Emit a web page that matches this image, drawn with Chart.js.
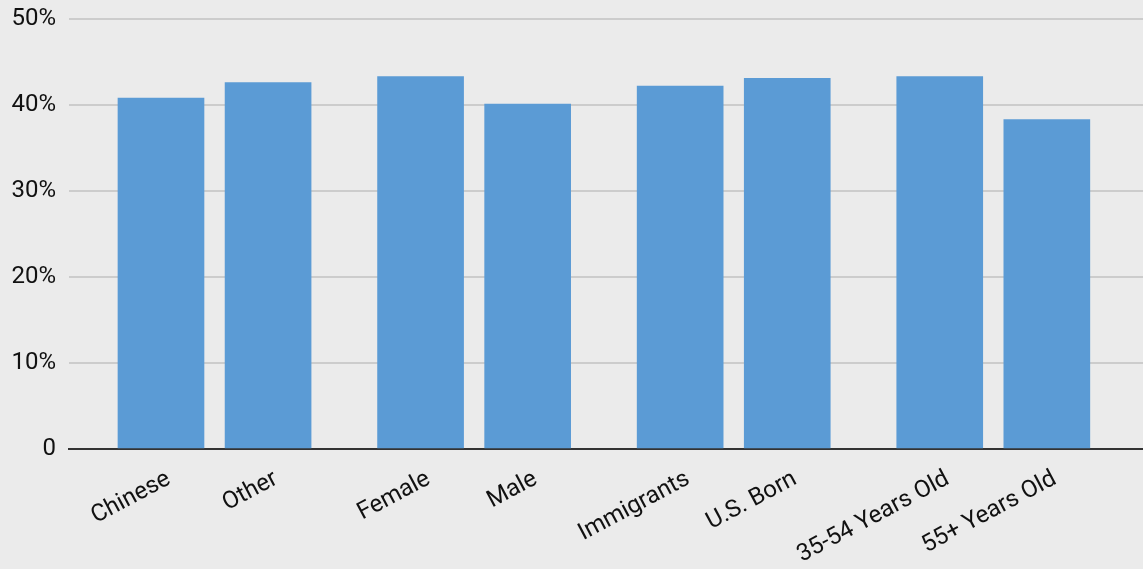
<!DOCTYPE html>
<html>
<head>
<meta charset="utf-8">
<script src="https://cdn.jsdelivr.net/npm/chart.js@4"></script>
<style>
  html, body { margin: 0; padding: 0; background: #ebebeb; }
  #wrap { width: 1143px; height: 569px; }
</style>
</head>
<body>
<div id="wrap"><canvas id="myChart"></canvas></div>
<script>
const categories = ['Chinese', 'Other', 'Female', 'Male', 'Immigrants', 'U.S. Born', '35-54 Years Old', '55+ Years Old'];
const values = [40.8, 42.6, 43.3, 40.1, 42.2, 43.1, 43.3, 38.3];
const groups = [0, 0, 1, 1, 2, 2, 3, 3];
const yTicks = [0, 10, 20, 30, 40, 50];

// extra space between groups, in bar steps
const groupGap = 0.424;
const positions = categories.map((c, i) => i + groups[i] * groupGap);

const ctx = document.getElementById('myChart').getContext('2d');

const myChart = new Chart(ctx, {
    type: 'bar',
    data: {
        datasets: [{
            data: positions.map((p, i) => ({ x: p, y: values[i] })),
            backgroundColor: '#5b9bd5',
            barThickness: 86
        }]
    },
    options: {
        responsive: true,
        maintainAspectRatio: false,
        animation: false,
        layout: { padding: { top: 19, right: 0, left: 0, bottom: 0 } },
        plugins: {
            legend: { display: false },
            tooltip: { enabled: false }
        },
        scales: {
            x: {
                type: 'linear',
                min: -0.859,
                max: 9.17,
                offset: false,
                z: 1,
                grid: { display: false, offset: false },
                border: { display: true, color: '#333333', width: 2 },
                afterBuildTicks: (scale) => {
                    scale.ticks = positions.map(p => ({ value: p }));
                },
                afterFit: (scale) => {
                    scale.height = 120;
                    scale.paddingLeft = 0;
                    scale.paddingRight = 0;
                },
                ticks: {
                    autoSkip: false,
                    minRotation: 28,
                    maxRotation: 28,
                    padding: 8,
                    labelOffset: 8,
                    color: '#111111',
                    font: { family: 'Roboto', size: 24 },
                    callback: (v) => {
                        const i = positions.findIndex(p => Math.abs(p - v) < 0.001);
                        return i >= 0 ? categories[i] : '';
                    }
                }
            },
            y: {
                min: 0,
                max: 50,
                afterBuildTicks: (scale) => {
                    scale.ticks = yTicks.map(v => ({ value: v }));
                },
                afterFit: (scale) => {
                    scale.width = 69;
                    scale.paddingTop = 0;
                    scale.paddingBottom = 0;
                },
                grid: { color: '#cccccc', lineWidth: 2, drawTicks: false },
                border: { display: false },
                ticks: {
                    padding: 13,
                    color: '#111111',
                    font: { family: 'Roboto', size: 24 },
                    callback: (v) => v === 0 ? '0' : v + '%'
                }
            }
        }
    }
});
</script>
</body>
</html>
